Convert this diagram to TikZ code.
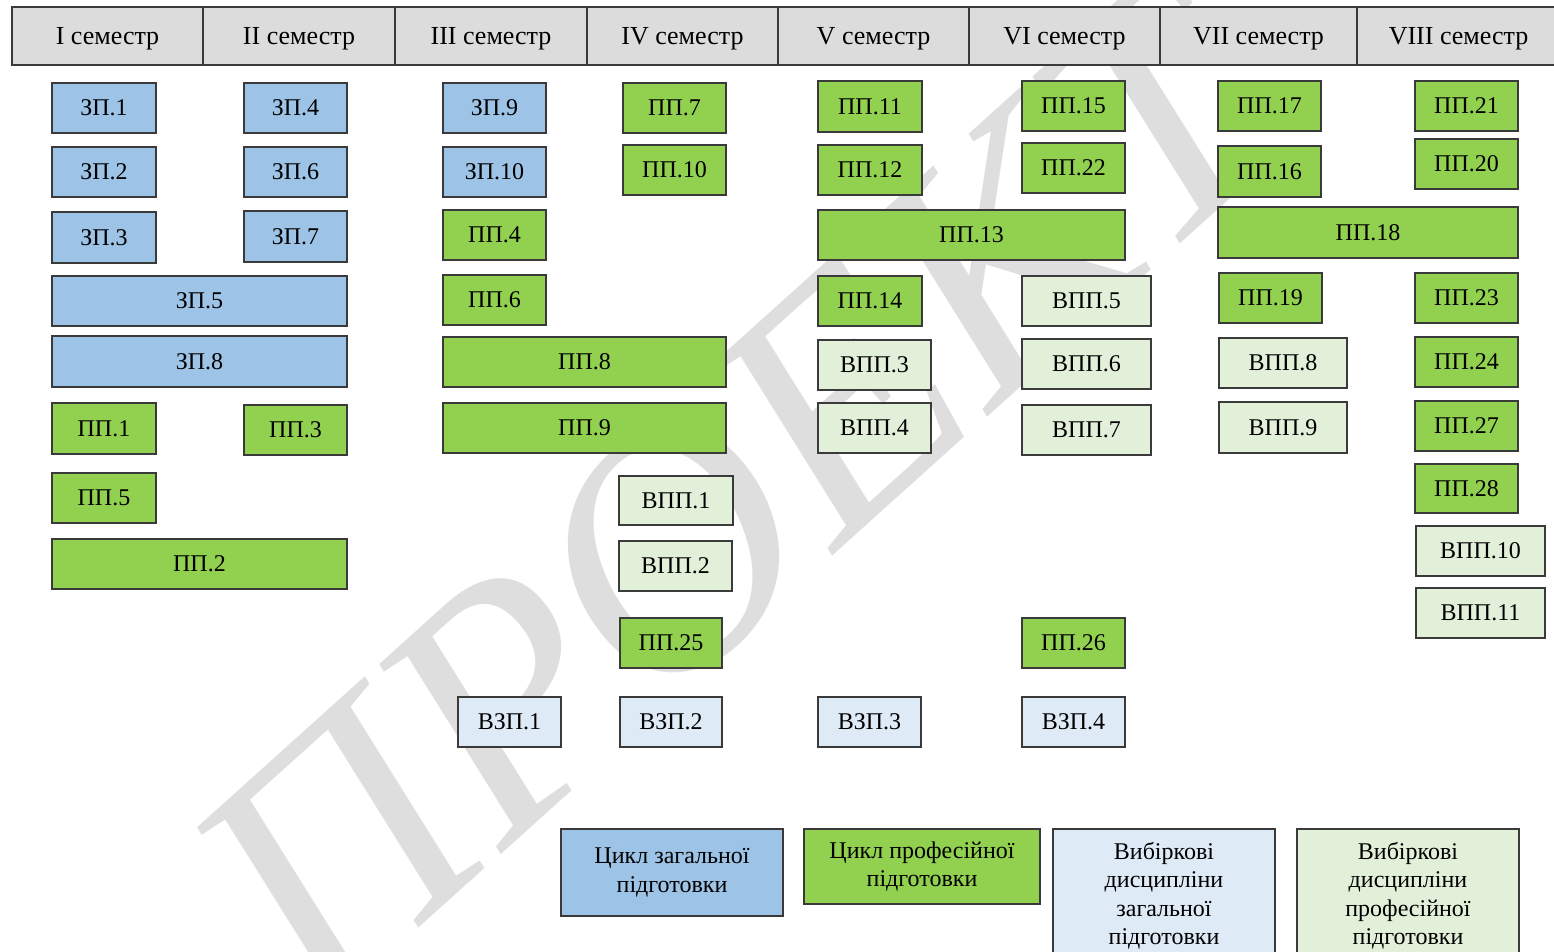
\documentclass[tikz,border=0pt]{standalone}
\usepackage{fontspec}
\setmainfont{Liberation Serif}
\definecolor{zpc}{HTML}{9DC3E6}
\definecolor{ppc}{HTML}{92D050}
\definecolor{vzpc}{HTML}{DEEBF7}
\definecolor{vppc}{HTML}{E2F0D9}
\definecolor{hdrc}{HTML}{DCDCDC}
\definecolor{edge}{HTML}{3A3A3A}
\definecolor{wm}{HTML}{DEDEDE}
\tikzset{
  base/.style={draw=edge, line width=1.1pt, inner sep=0pt, align=center,
    font=\fontsize{24}{28.5}\selectfont},
  zp/.style={base, fill=zpc},
  pp/.style={base, fill=ppc},
  vzp/.style={base, fill=vzpc},
  vpp/.style={base, fill=vppc},
  hdr/.style={base, fill=hdrc, text depth=0pt, font=\fontsize{26}{30}\selectfont},
}
\newcommand\bx[7]{\node[#2, minimum width={#5-#3}, minimum height={#6-#4}] (#1) at ({(#3+#5)/2},{(#4+#6)/2}) {#7};}
\begin{document}
\begin{tikzpicture}[x=1pt,y=-1pt]
\useasboundingbox (0,0) rectangle (1554,952);
\clip (0,0) rectangle (1554,952);
% watermark
\node[rotate=42, text=wm, inner sep=0pt, font=\fontsize{340}{340}\selectfont\itshape] (wmark) at (735,495) {ПРОЕКТ};
% header
\bx{h1}{hdr}{12}{7}{203}{65}{I семестр}
\bx{h2}{hdr}{203}{7}{395}{65}{II семестр}
\bx{h3}{hdr}{395}{7}{587}{65}{III семестр}
\bx{h4}{hdr}{587}{7}{778}{65}{IV семестр}
\bx{h5}{hdr}{778}{7}{969}{65}{V семестр}
\bx{h6}{hdr}{969}{7}{1160}{65}{VI семестр}
\bx{h7}{hdr}{1160}{7}{1357}{65}{VII семестр}
\bx{h8}{hdr}{1357}{7}{1560}{65}{VIII семестр}
% semester I / II
\bx{zp1}{zp}{52}{83}{156}{133}{ЗП.1}
\bx{zp2}{zp}{52}{147}{156}{197}{ЗП.2}
\bx{zp3}{zp}{52}{212}{156}{263}{ЗП.3}
\bx{zp4}{zp}{244}{83}{347}{133}{ЗП.4}
\bx{zp6}{zp}{244}{147}{347}{197}{ЗП.6}
\bx{zp7}{zp}{244}{211}{347}{262}{ЗП.7}
\bx{zp5}{zp}{52}{276}{347}{326}{ЗП.5}
\bx{zp8}{zp}{52}{336}{347}{387}{ЗП.8}
\bx{pp1}{pp}{52}{403}{156}{454}{ПП.1}
\bx{pp3}{pp}{244}{405}{347}{455}{ПП.3}
\bx{pp5}{pp}{52}{473}{156}{523}{ПП.5}
\bx{pp2}{pp}{52}{539}{347}{589}{ПП.2}
% semester III / IV
\bx{zp9}{zp}{443}{83}{546}{133}{ЗП.9}
\bx{zp10}{zp}{443}{147}{546}{197}{ЗП.10}
\bx{pp4}{pp}{443}{210}{546}{260}{ПП.4}
\bx{pp6}{pp}{443}{275}{546}{325}{ПП.6}
\bx{pp8}{pp}{443}{337}{726}{387}{ПП.8}
\bx{pp9}{pp}{443}{403}{726}{453}{ПП.9}
\bx{pp7}{pp}{623}{83}{726}{133}{ПП.7}
\bx{pp10}{pp}{623}{145}{726}{195}{ПП.10}
\bx{vpp1}{vpp}{619}{476}{733}{525}{ВПП.1}
\bx{vpp2}{vpp}{619}{541}{732}{591}{ВПП.2}
\bx{pp25}{pp}{620}{618}{722}{668}{ПП.25}
\bx{vzp1}{vzp}{458}{697}{561}{747}{ВЗП.1}
\bx{vzp2}{vzp}{620}{697}{722}{747}{ВЗП.2}
% semester V / VI
\bx{pp11}{pp}{818}{81}{922}{132}{ПП.11}
\bx{pp12}{pp}{818}{145}{922}{195}{ПП.12}
\bx{pp13}{pp}{818}{210}{1125}{260}{ПП.13}
\bx{pp14}{pp}{818}{276}{922}{326}{ПП.14}
\bx{vpp3}{vpp}{818}{340}{931}{390}{ВПП.3}
\bx{vpp4}{vpp}{818}{403}{931}{453}{ВПП.4}
\bx{vzp3}{vzp}{818}{697}{921}{747}{ВЗП.3}
\bx{pp15}{pp}{1022}{81}{1125}{131}{ПП.15}
\bx{pp22}{pp}{1022}{143}{1125}{193}{ПП.22}
\bx{vpp5}{vpp}{1022}{276}{1151}{326}{ВПП.5}
\bx{vpp6}{vpp}{1022}{339}{1151}{389}{ВПП.6}
\bx{vpp7}{vpp}{1022}{405}{1151}{455}{ВПП.7}
\bx{pp26}{pp}{1022}{618}{1125}{668}{ПП.26}
\bx{vzp4}{vzp}{1022}{697}{1125}{747}{ВЗП.4}
% semester VII / VIII
\bx{pp17}{pp}{1218}{81}{1321}{131}{ПП.17}
\bx{pp16}{pp}{1218}{146}{1321}{197}{ПП.16}
\bx{pp18}{pp}{1218}{207}{1518}{258}{ПП.18}
\bx{pp19}{pp}{1219}{273}{1322}{323}{ПП.19}
\bx{vpp8}{vpp}{1219}{338}{1347}{388}{ВПП.8}
\bx{vpp9}{vpp}{1219}{402}{1347}{453}{ВПП.9}
\bx{pp21}{pp}{1415}{81}{1518}{131}{ПП.21}
\bx{pp20}{pp}{1415}{139}{1518}{189}{ПП.20}
\bx{pp23}{pp}{1415}{273}{1518}{323}{ПП.23}
\bx{pp24}{pp}{1415}{337}{1518}{387}{ПП.24}
\bx{pp27}{pp}{1415}{401}{1518}{451}{ПП.27}
\bx{pp28}{pp}{1415}{464}{1518}{513}{ПП.28}
\bx{vpp10}{vpp}{1416}{526}{1545}{576}{ВПП.10}
\bx{vpp11}{vpp}{1416}{588}{1545}{638}{ВПП.11}
% legend
\bx{lg1}{zp}{561}{829}{783}{916}{Цикл загальної\\підготовки}
\bx{lg2}{pp}{804}{829}{1040}{904}{Цикл професійної\\підготовки}
\bx{lg3}{vzp}{1053}{829}{1275}{962}{Вибіркові\\дисципліни\\загальної\\підготовки}
\bx{lg4}{vpp}{1297}{829}{1519}{962}{Вибіркові\\дисципліни\\професійної\\підготовки}
\end{tikzpicture}
\end{document}
